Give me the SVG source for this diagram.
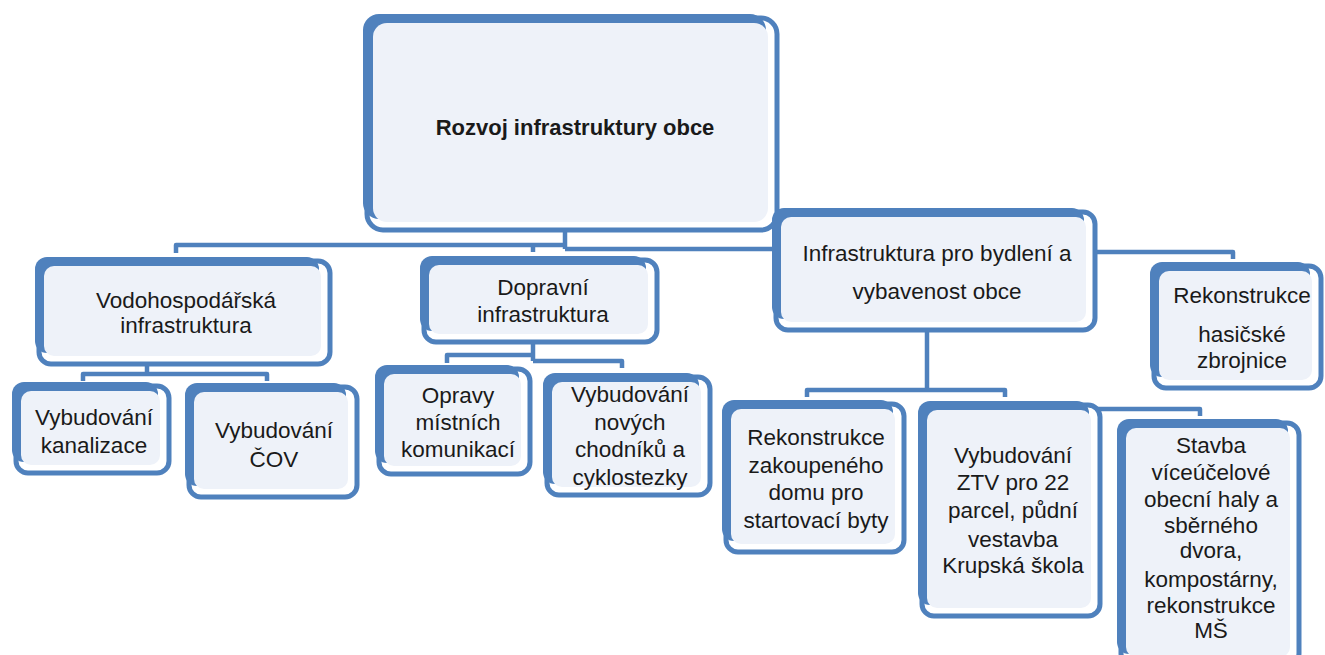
<svg xmlns="http://www.w3.org/2000/svg" width="1325" height="655" viewBox="0 0 1325 655">
<style>
.frame{fill:#ffffff;stroke:#4F81BD;stroke-width:5}
.back{fill:#4F81BD}
.face{fill:#EEF2F9}
.t{font-family:"Liberation Sans",Arial,sans-serif;font-size:22.5px;fill:#1a1a1a;text-anchor:middle}
.b{font-weight:bold;font-size:22px}
.conn{stroke:#4F81BD;stroke-width:4.5;fill:none;stroke-linejoin:round;stroke-linecap:butt}
</style>
<rect width="1325" height="655" fill="#ffffff"/>
<g id="connectors">
<path class="conn" d="M565,226 V249"/>
<path class="conn" d="M565,245 H176 V253"/>
<path class="conn" d="M533,245 V252"/>
<path class="conn" d="M565,249 H930"/>
<path class="conn" d="M930,252 H1233 V259"/>
<path class="conn" d="M147,362 V374"/>
<path class="conn" d="M83,381 V374 H267 V381"/>
<path class="conn" d="M533,340 V361"/>
<path class="conn" d="M447,363 V355 H533"/>
<path class="conn" d="M533,361 H622 V368"/>
<path class="conn" d="M927,330 V391"/>
<path class="conn" d="M807,397 V390 H1005 V397"/>
<path class="conn" d="M927,409 H1200 V416"/>
</g>
<g id="root">
<rect class="frame" x="367" y="18" width="410" height="212" rx="16"/>
<rect class="back" x="363" y="14" width="403" height="205" rx="16"/>
<rect class="face" x="373" y="23" width="395" height="199" rx="14"/>
<text class="t b" x="575" y="135">Rozvoj infrastruktury obce</text>
</g>
<g id="vodohospodarska">
<rect class="frame" x="39" y="261" width="291" height="103" rx="12"/>
<rect class="back" x="35" y="257" width="284" height="96" rx="12"/>
<rect class="face" x="44" y="266" width="277" height="90" rx="10"/>
<text class="t" x="186" y="308">Vodohospodářská</text>
<text class="t" x="186" y="333">infrastruktura</text>
</g>
<g id="dopravni">
<rect class="frame" x="424" y="260" width="233" height="82" rx="12"/>
<rect class="back" x="420" y="256" width="226" height="75" rx="12"/>
<rect class="face" x="429" y="265" width="219" height="69" rx="10"/>
<text class="t" x="543" y="295">Dopravní</text>
<text class="t" x="543" y="322">infrastruktura</text>
</g>
<g id="infrastruktura-bydleni">
<rect class="frame" x="776" y="212" width="319" height="118" rx="12"/>
<rect class="back" x="772" y="208" width="312" height="111" rx="12"/>
<rect class="face" x="781" y="217" width="305" height="105" rx="10"/>
<text class="t" x="937" y="261">Infrastruktura pro bydlení a</text>
<text class="t" x="937" y="299">vybavenost obce</text>
</g>
<g id="hasicska-zbrojnice">
<rect class="frame" x="1154" y="266" width="167" height="122" rx="12"/>
<rect class="back" x="1150" y="262" width="160" height="115" rx="12"/>
<rect class="face" x="1159" y="271" width="153" height="109" rx="10"/>
<text class="t" x="1242" y="303">Rekonstrukce</text>
<text class="t" x="1242" y="342">hasičské</text>
<text class="t" x="1242" y="368">zbrojnice</text>
</g>
<g id="kanalizace">
<rect class="frame" x="16" y="386" width="153" height="87" rx="12"/>
<rect class="back" x="12" y="382" width="146" height="80" rx="12"/>
<rect class="face" x="21" y="391" width="139" height="74" rx="10"/>
<text class="t" x="94" y="425">Vybudování</text>
<text class="t" x="94" y="453">kanalizace</text>
</g>
<g id="cov">
<rect class="frame" x="189" y="387" width="168" height="110" rx="12"/>
<rect class="back" x="185" y="383" width="161" height="103" rx="12"/>
<rect class="face" x="194" y="392" width="154" height="97" rx="10"/>
<text class="t" x="274" y="438">Vybudování</text>
<text class="t" x="274" y="467">ČOV</text>
</g>
<g id="opravy">
<rect class="frame" x="379" y="369" width="151" height="105" rx="12"/>
<rect class="back" x="375" y="365" width="144" height="98" rx="12"/>
<rect class="face" x="384" y="374" width="137" height="92" rx="10"/>
<text class="t" x="458" y="403">Opravy</text>
<text class="t" x="458" y="430">místních</text>
<text class="t" x="458" y="457">komunikací</text>
</g>
<g id="chodniky">
<rect class="frame" x="547" y="377" width="163" height="118" rx="12"/>
<rect class="back" x="543" y="373" width="156" height="111" rx="12"/>
<rect class="face" x="552" y="382" width="149" height="105" rx="10"/>
<text class="t" x="630" y="402">Vybudování</text>
<text class="t" x="630" y="430">nových</text>
<text class="t" x="630" y="457">chodníků a</text>
<text class="t" x="630" y="485">cyklostezky</text>
</g>
<g id="startovaci-byty">
<rect class="frame" x="726" y="404" width="178" height="148" rx="12"/>
<rect class="back" x="722" y="400" width="171" height="141" rx="12"/>
<rect class="face" x="731" y="409" width="164" height="135" rx="10"/>
<text class="t" x="816" y="445">Rekonstrukce</text>
<text class="t" x="816" y="473">zakoupeného</text>
<text class="t" x="816" y="500">domu pro</text>
<text class="t" x="816" y="528">startovací byty</text>
</g>
<g id="ztv">
<rect class="frame" x="922" y="405" width="178" height="211" rx="12"/>
<rect class="back" x="918" y="401" width="171" height="204" rx="12"/>
<rect class="face" x="927" y="410" width="164" height="198" rx="10"/>
<text class="t" x="1013" y="463">Vybudování</text>
<text class="t" x="1013" y="490">ZTV pro 22</text>
<text class="t" x="1013" y="518">parcel, půdní</text>
<text class="t" x="1013" y="547">vestavba</text>
<text class="t" x="1013" y="573">Krupská škola</text>
</g>
<g id="stavba-haly">
<rect class="frame" x="1121" y="423" width="178" height="242" rx="12"/>
<rect class="back" x="1117" y="419" width="171" height="235" rx="12"/>
<rect class="face" x="1126" y="428" width="164" height="229" rx="10"/>
<text class="t" x="1211" y="453">Stavba</text>
<text class="t" x="1211" y="480">víceúčelové</text>
<text class="t" x="1211" y="507">obecní haly a</text>
<text class="t" x="1211" y="533">sběrného</text>
<text class="t" x="1211" y="558">dvora,</text>
<text class="t" x="1211" y="587">kompostárny,</text>
<text class="t" x="1211" y="613">rekonstrukce</text>
<text class="t" x="1211" y="638">MŠ</text>
</g>
</svg>
